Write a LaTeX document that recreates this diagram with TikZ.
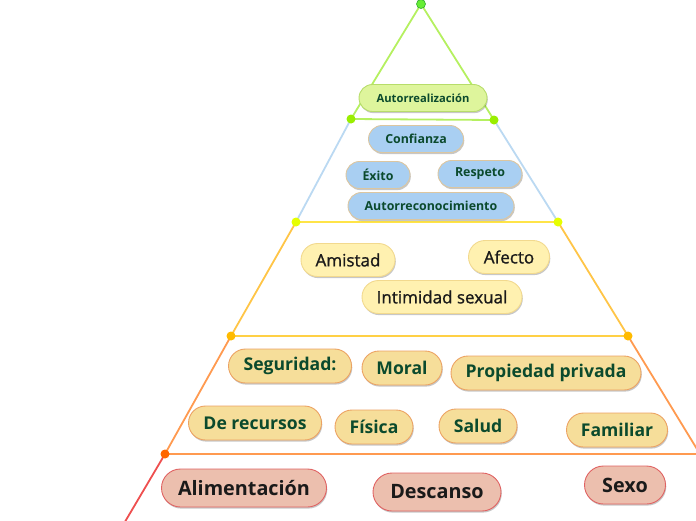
\documentclass[tikz,border=0pt]{standalone}
\usepackage{fontspec}
\setmainfont{Open Sans}
\usetikzlibrary{shadows}
\definecolor{lineA}{HTML}{B5F060}
\definecolor{lineB}{HTML}{BBD9F2}
\definecolor{lineBy}{HTML}{FFE448}
\definecolor{lineC}{HTML}{FFC547}
\definecolor{lineCy}{HTML}{FFD045}
\definecolor{lineD}{HTML}{FF9A50}
\definecolor{lineE}{HTML}{EE4F4F}
\definecolor{dotA}{HTML}{66EE33}
\definecolor{dotAd}{HTML}{33AA33}
\definecolor{dotB}{HTML}{99EE00}
\definecolor{dotC}{HTML}{E6FF00}
\definecolor{dotD}{HTML}{FFBB00}
\definecolor{dotE}{HTML}{FF6600}
\definecolor{fA}{HTML}{DEF59C}
\definecolor{bA}{HTML}{B7DD6A}
\definecolor{fB}{HTML}{A9CFF2}
\definecolor{bB}{HTML}{DCC6A0}
\definecolor{fC}{HTML}{FFF1B0}
\definecolor{bC}{HTML}{F2D98E}
\definecolor{fD}{HTML}{F6DE9A}
\definecolor{bD}{HTML}{ECA262}
\definecolor{fE}{HTML}{ECBFAE}
\definecolor{bE}{HTML}{E06262}
\definecolor{dgreen}{HTML}{0B4A2D}
\definecolor{tblack}{HTML}{1A1A1A}
\begin{document}
\begin{tikzpicture}[x=1pt,y=-1pt,
  edge/.style={line width=1.8pt},
  dot/.style={circle, inner sep=0pt, minimum size=9pt},
  pill/.style={draw, line width=0.9pt, inner sep=0pt, align=center,
    drop shadow={shadow xshift=0.8pt, shadow yshift=-1.6pt, opacity=0.22, fill=black}},
  lvA/.style={pill, fill=fA, draw=bA, text=dgreen,
    font=\bfseries\fontsize{11.2}{13}\selectfont, minimum height=27pt, rounded corners=13.5pt},
  lvB/.style={pill, fill=fB, draw=bB, text=dgreen,
    font=\bfseries\fontsize{12.4}{14}\selectfont, minimum height=27pt, rounded corners=13.5pt},
  lvC/.style={pill, fill=fC, draw=bC, text=tblack,
    font=\fontsize{17}{19}\selectfont\addfontfeature{FakeBold=1.2}, minimum height=33pt, rounded corners=16.5pt},
  lvD/.style={pill, fill=fD, draw=bD, text=dgreen,
    font=\bfseries\fontsize{17.6}{20}\selectfont, minimum height=34pt, rounded corners=17pt},
  lvE/.style={pill, fill=fE, draw=bE, text=tblack,
    font=\bfseries\fontsize{19.8}{22}\selectfont, minimum height=38pt, rounded corners=19pt}]
\useasboundingbox (0,0) rectangle (696,520);
\clip (0,0) rectangle (696,520);
% pyramid coordinates
\coordinate (A) at (421,4);
\coordinate (B1L) at (351,119);
\coordinate (B1R) at (494,120);
\coordinate (B2L) at (296,222);
\coordinate (B2R) at (558,222);
\coordinate (B3L) at (231,336);
\coordinate (B3R) at (628,336);
\coordinate (B4L) at (165,454);
\coordinate (B4R) at (700,454);
\coordinate (B5L) at (116,537);
% level lines
\draw[edge, lineA] (B1L) -- (A) -- (B1R) -- (B1L);
\draw[edge, lineB] (B1L) -- (B2L);
\draw[edge, lineB] (B1R) -- (B2R);
\draw[edge, lineBy] (B2L) -- (B2R);
\draw[edge, lineC] (B2L) -- (B3L);
\draw[edge, lineC] (B2R) -- (B3R);
\draw[edge, lineCy] (B3L) -- (B3R);
\draw[edge, lineD] (B3L) -- (B4L);
\draw[edge, lineD] (B3R) -- (B4R);
\draw[edge, lineD] (B4L) -- (B4R);
\draw[edge, lineE] (B4L) -- (B5L);
% dots
\node[dot, fill=dotA, draw=dotAd, line width=0.6pt] (dA) at (A) {};
\node[dot, fill=dotB] (d1l) at (B1L) {};
\node[dot, fill=dotB] (d1r) at (B1R) {};
\node[dot, fill=dotC] (d2l) at (B2L) {};
\node[dot, fill=dotC] (d2r) at (B2R) {};
\node[dot, fill=dotD] (d3l) at (B3L) {};
\node[dot, fill=dotD] (d3r) at (B3R) {};
\node[dot, fill=dotE] (d4l) at (B4L) {};
% level 1
\node[lvA, minimum width=128pt] (autor) at (423,98) {Autorrealización};
% level 2
\node[lvB, minimum width=95pt] (conf) at (416,139) {Confianza};
\node[lvB, minimum width=64pt] (exito) at (378,175) {Éxito};
\node[lvB, minimum width=84pt] (resp) at (480,174) {Respeto};
\node[lvB, minimum width=166pt] (autorec) at (431,206) {Autorreconocimiento};
% level 3
\node[lvC, minimum width=94pt] (amis) at (348,260) {Amistad};
\node[lvC, minimum width=81pt] (afec) at (509,257) {Afecto};
\node[lvC, minimum width=160pt] (intim) at (442,297) {Intimidad sexual};
% level 4
\node[lvD, minimum width=123pt] (segu) at (290,366) {Seguridad:};
\node[lvD, minimum width=80pt] (moral) at (402,368) {Moral};
\node[lvD, minimum width=190pt] (prop) at (546,373) {Propiedad privada};
\node[lvD, minimum width=133pt] (recur) at (255,423) {De recursos};
\node[lvD, minimum width=78pt] (fisica) at (374,427) {Física};
\node[lvD, minimum width=78pt] (salud) at (478,426) {Salud};
\node[lvD, minimum width=101pt] (famil) at (617,430) {Familiar};
% level 5
\node[lvE, minimum width=165pt] (alim) at (244,488) {Alimentación};
\node[lvE, minimum width=128pt] (desc) at (437,492) {Descanso};
\node[lvE, minimum width=81pt] (sexo) at (625,485) {Sexo};
\end{tikzpicture}
\end{document}
